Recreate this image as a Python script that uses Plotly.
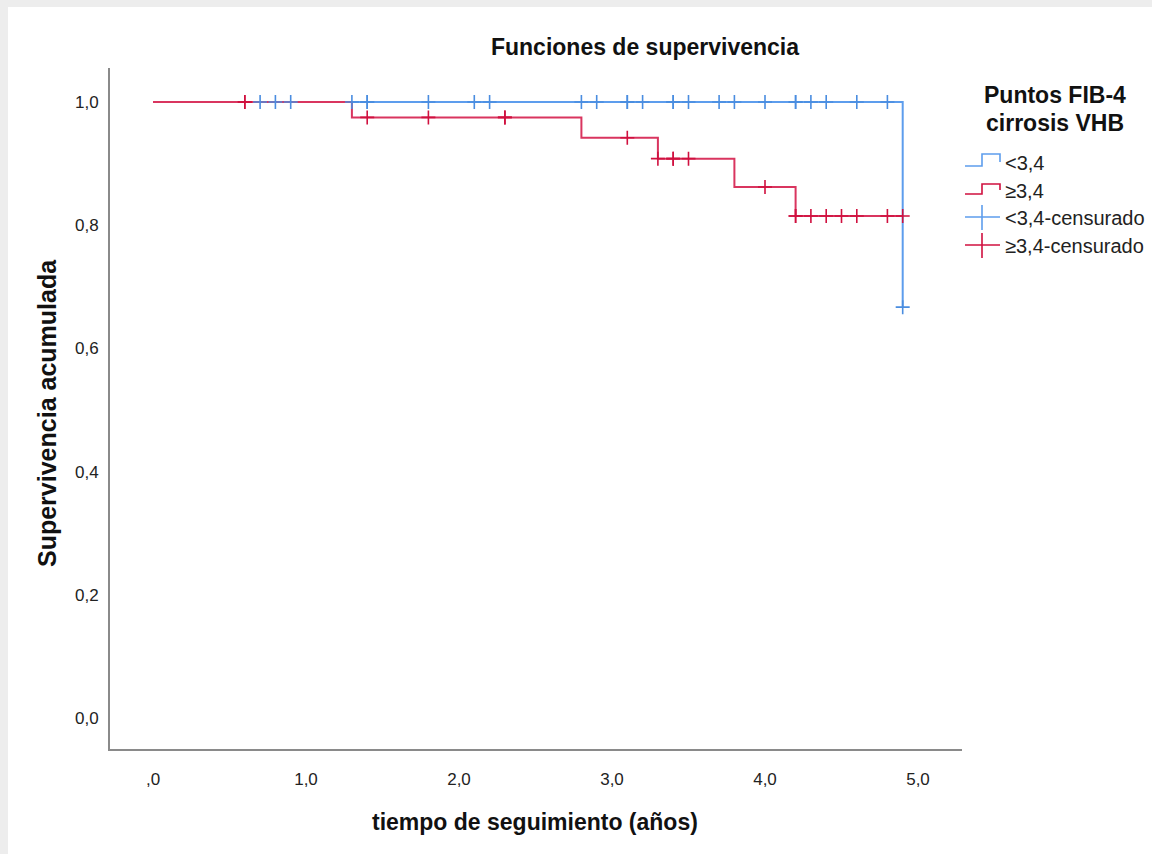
import plotly.graph_objects as go

# Kaplan-Meier step curves (time in years, cumulative survival)
low_t = [0.0, 4.9]
low_s = [1.0, 0.667]
high_t = [0.0, 1.3, 2.8, 3.3, 3.8, 4.2, 4.9]
high_s = [1.0, 0.975, 0.942, 0.908, 0.862, 0.815, 0.815]

# Censored observations (repeated times = several cases at the same time)
low_cens_t = [0.7, 0.8, 0.9, 1.3, 1.4, 1.4, 1.8, 2.1, 2.2, 2.8, 2.9, 3.1, 3.1, 3.2,
              3.4, 3.4, 3.5, 3.7, 3.8, 4.0, 4.2, 4.2, 4.3, 4.4, 4.6, 4.8, 4.9]
low_cens_s = [1.0] * 26 + [0.667]
high_cens_t = [0.6, 0.6, 1.4, 1.8, 2.3, 2.3, 3.1, 3.3, 3.4, 3.4, 3.5, 4.0,
               4.2, 4.2, 4.3, 4.4, 4.5, 4.6, 4.8, 4.9]
high_cens_s = [1.0, 1.0, 0.975, 0.975, 0.975, 0.975, 0.942, 0.908, 0.908, 0.908, 0.908,
               0.862, 0.815, 0.815, 0.815, 0.815, 0.815, 0.815, 0.815, 0.815]

x_ticks = [0, 1, 2, 3, 4, 5]
x_tick_text = [",0", "1,0", "2,0", "3,0", "4,0", "5,0"]
y_ticks = [0, 0.2, 0.4, 0.6, 0.8, 1.0]
y_tick_text = ["0,0", "0,2", "0,4", "0,6", "0,8", "1,0"]

group_names = ["<3,4", "≥3,4", "<3,4-censurado", "≥3,4-censurado"]
legend_title = ["Puntos FIB-4", "cirrosis VHB"]

BLUE_LINE = "#5d9ded"
BLUE_MARK = "#4a8de0"
RED_LINE = "#d9355f"
RED_MARK = "#d0103f"

W, H = 1152, 854
L, R, T, B = 110, 962, 68, 749  # plot area in pixels


def px(x):
    return (x - L) / (R - L)


def py(y):
    return (B - y) / (B - T)


fig = go.Figure()
fig.add_trace(go.Scatter(x=low_t, y=low_s, mode="lines", line_shape="hv",
                         line=dict(color=BLUE_LINE, width=2), showlegend=False))
fig.add_trace(go.Scatter(x=high_t, y=high_s, mode="lines", line_shape="hv",
                         line=dict(color=RED_LINE, width=2), showlegend=False))
fig.add_trace(go.Scatter(x=low_cens_t, y=low_cens_s, mode="markers",
                         marker=dict(symbol="cross-thin", size=10,
                                     line=dict(color=BLUE_MARK, width=1.6)),
                         showlegend=False))
fig.add_trace(go.Scatter(x=high_cens_t, y=high_cens_s, mode="markers",
                         marker=dict(symbol="cross-thin", size=10,
                                     line=dict(color=RED_MARK, width=1.6)),
                         showlegend=False))

shapes = []
# light frame edge along top and left
shapes.append(dict(type="rect", xref="paper", yref="paper", layer="below",
                   x0=px(-5), x1=px(W + 5), y0=py(-5), y1=py(7),
                   fillcolor="#ededed", line=dict(width=0)))
shapes.append(dict(type="rect", xref="paper", yref="paper", layer="below",
                   x0=px(-5), x1=px(8), y0=py(-5), y1=py(H + 5),
                   fillcolor="#ededed", line=dict(width=0)))


def path(points):
    d = "M " + " L ".join(f"{px(a):.5f},{py(b):.5f}" for a, b in points)
    return d


# legend icons: step lines and censor crosses
shapes.append(dict(type="path", xref="paper", yref="paper",
                   path=path([(965, 166), (982, 166), (982, 154), (1000, 154), (1000, 162)]),
                   line=dict(color=BLUE_LINE, width=1.6)))
shapes.append(dict(type="path", xref="paper", yref="paper",
                   path=path([(965, 194), (982, 194), (982, 184), (1000, 184), (1000, 190)]),
                   line=dict(color=RED_MARK, width=1.6)))
for yc, col in [(217, BLUE_LINE), (245, RED_MARK)]:
    shapes.append(dict(type="line", xref="paper", yref="paper",
                       x0=px(965), x1=px(1000), y0=py(yc), y1=py(yc),
                       line=dict(color=col, width=1.6)))
    shapes.append(dict(type="line", xref="paper", yref="paper",
                       x0=px(982), x1=px(982), y0=py(yc - 12), y1=py(yc + 13),
                       line=dict(color=col, width=1.6)))

annotations = []
for name, yc in zip(group_names, [163, 191, 218, 246]):
    annotations.append(dict(text=name, xref="paper", yref="paper", x=px(1003), y=py(yc),
                            xanchor="left", yanchor="middle", showarrow=False,
                            font=dict(family="Liberation Sans, Arial", size=20, color="#222")))
for line_text, yc in zip(legend_title, [95, 123]):
    annotations.append(dict(text=f"<b>{line_text}</b>", xref="paper", yref="paper",
                            x=px(1055), y=py(yc), xanchor="center", yanchor="middle",
                            showarrow=False,
                            font=dict(family="Liberation Sans, Arial", size=23, color="#111")))
annotations.append(dict(text="<b>tiempo de seguimiento (años)</b>", xref="paper", yref="paper",
                        x=px(535), y=py(822), xanchor="center", yanchor="middle",
                        showarrow=False,
                        font=dict(family="Liberation Sans, Arial", size=23, color="#111")))
annotations.append(dict(text="<b>Supervivencia acumulada</b>", xref="paper", yref="paper",
                        x=px(47), y=py(413), xanchor="center", yanchor="middle",
                        textangle=-90, showarrow=False,
                        font=dict(family="Liberation Sans, Arial", size=25, color="#111")))

tick_font = dict(family="Liberation Sans, Arial", size=17, color="#222")

fig.update_layout(
    width=W, height=H,
    margin=dict(l=L, r=W - R, t=T, b=H - B, pad=0),
    paper_bgcolor="white", plot_bgcolor="white",
    title=dict(text="<b>Funciones de supervivencia</b>", x=645 / W, y=1 - 47 / H,
               xanchor="center", yanchor="middle", xref="container", yref="container",
               font=dict(family="Liberation Sans, Arial", size=23, color="#111")),
    xaxis=dict(range=[(L - 153) / 153, (R - 153) / 153], tickvals=x_ticks,
               ticktext=x_tick_text, showgrid=False, zeroline=False, showline=True,
               linecolor="#8a8a8a", linewidth=2, ticks="", ticklabelstandoff=14,
               tickfont=tick_font),
    yaxis=dict(range=[(718 - B) / 616, (718 - T) / 616], tickvals=y_ticks,
               ticktext=y_tick_text, showgrid=False, zeroline=False, showline=True,
               linecolor="#8a8a8a", linewidth=2, ticks="", ticklabelstandoff=6,
               tickfont=tick_font),
    shapes=shapes, annotations=annotations, showlegend=False,
)

fig.write_html("out.html")
